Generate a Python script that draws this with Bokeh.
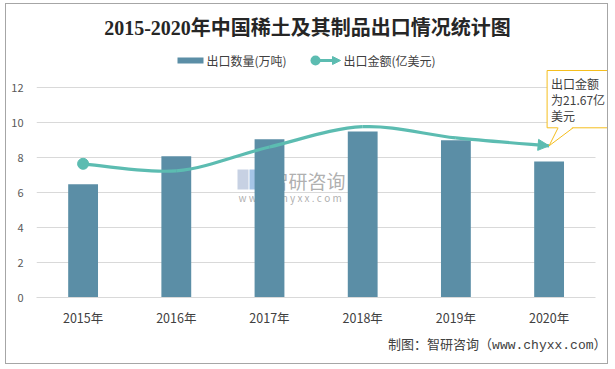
import numpy as np
from bokeh.plotting import figure
from bokeh.models import (Range1d, FixedTicker, Label, Arrow, NormalHead,
                          PolyAnnotation, BoxAnnotation, Title)
from bokeh.embed import file_html
from bokeh.resources import INLINE

# ---------------- data ----------------
years = ["2015年", "2016年", "2017年", "2018年", "2019年", "2020年"]
volume = [6.47, 8.07, 9.04, 9.49, 8.98, 7.77]          # 出口数量(万吨)
value_usd = [19.1, 18.1, 21.5, 24.4, 22.8, 21.67]      # 出口金额(亿美元)
y_ticks = [0, 2, 4, 6, 8, 10, 12]
value_axis_max = 30

# ---------------- layout (style only) ----------------
W, H = 603, 361
ML, MR, MT, MB = 30, 0, 0, 68
FW, FH = W - ML - MR, H - MT - MB
CAT_PX = 93.2          # pixels per category
UNIT_PX = 17.5         # pixels per y unit

BAR = "#5b8ea6"
LINE = "#5cbcb1"
CJK = "'Noto Sans CJK SC', sans-serif"

n = len(years)
xs = np.arange(n, dtype=float)
x_start = -0.5
x_end = x_start + FW / CAT_PX
y_end = FH / UNIT_PX

p = figure(width=W, height=H, x_range=Range1d(x_start, x_end),
           y_range=Range1d(y_ticks[0], y_end),
           output_backend="svg", toolbar_location=None,
           min_border_left=ML, min_border_right=MR,
           min_border_top=MT, min_border_bottom=MB)
p.extra_y_ranges = {"value": Range1d(0, value_axis_max * y_end / y_ticks[-1])}
p.outline_line_color = None
p.background_fill_color = "white"
p.border_fill_color = "white"
p.styles = {"border": "1px solid #a6a6a6", "margin-left": "5px", "margin-top": "3px"}

# axes
p.xaxis.ticker = FixedTicker(ticks=list(range(n)))
p.xaxis.major_label_overrides = {i: y for i, y in enumerate(years)}
p.xaxis.bounds = (-0.5, n - 0.5)
p.xaxis.axis_line_color = "#d9d9d9"
p.xaxis.major_tick_line_color = None
p.xaxis.minor_tick_line_color = None
p.xaxis.major_label_text_font = CJK
p.xaxis.major_label_text_font_size = "12.5px"
p.xaxis.major_label_text_color = "#404040"
p.xaxis.major_label_standoff = 4

p.yaxis.ticker = FixedTicker(ticks=y_ticks)
p.yaxis.axis_line_color = None
p.yaxis.major_tick_line_color = None
p.yaxis.minor_tick_line_color = None
p.yaxis.major_label_text_font = CJK
p.yaxis.major_label_text_font_size = "11px"
p.yaxis.major_label_text_color = "#595959"
p.yaxis.major_label_standoff = 7

p.xgrid.grid_line_color = None
p.ygrid.ticker = FixedTicker(ticks=y_ticks[1:])
p.ygrid.grid_line_color = "#d9d9d9"
p.ygrid.cross_bounds = (-0.5, n - 0.5)

# watermark (underlay)
p.add_layout(BoxAnnotation(left=201, right=212, bottom=108, top=128,
                           left_units="screen", right_units="screen",
                           bottom_units="screen", top_units="screen",
                           fill_color="#b9c6dc", fill_alpha=0.8, line_color=None,
                           level="underlay"))
p.add_layout(BoxAnnotation(left=213, right=224, bottom=108, top=128,
                           left_units="screen", right_units="screen",
                           bottom_units="screen", top_units="screen",
                           fill_color="#8fb7e0", fill_alpha=0.8, line_color=None,
                           level="underlay"))
p.add_layout(Label(x=233, y=117, x_units="screen", y_units="screen",
                   text="智研咨询", text_font=CJK, text_font_size="19px",
                   text_color="#9a9a9a", text_alpha=0.8, text_baseline="middle",
                   level="underlay"))
p.add_layout(Label(x=202, y=100, x_units="screen", y_units="screen",
                   text="w w w . c h y x x . c o m", text_font=CJK,
                   text_font_size="10px", text_color="#9a9a9a", text_alpha=0.8,
                   text_baseline="middle", level="underlay"))

# bars
p.vbar(x=xs, top=volume, width=0.32, fill_color=BAR, line_color=None)

# smoothed line (Catmull-Rom -> cubic Bezier)
P = np.column_stack([xs, np.array(value_usd, dtype=float)])
Pe = np.vstack([P[0], P, P[-1]])
i = np.arange(n - 1)
cp0 = Pe[i + 1] + (Pe[i + 2] - Pe[i]) / 6.0
cp1 = Pe[i + 2] - (Pe[i + 3] - Pe[i + 1]) / 6.0
p.bezier(x0=P[:-1, 0], y0=P[:-1, 1], x1=P[1:, 0], y1=P[1:, 1],
         cx0=cp0[:, 0], cy0=cp0[:, 1], cx1=cp1[:, 0], cy1=cp1[:, 1],
         line_color=LINE, line_width=3.2, y_range_name="value")
p.scatter(x=[xs[0]], y=[value_usd[0]], size=11, fill_color=LINE,
          line_color=LINE, y_range_name="value")
p.add_layout(Arrow(end=NormalHead(size=11, fill_color=LINE, line_color=LINE),
                   x_start=cp1[-1, 0], y_start=cp1[-1, 1],
                   x_end=xs[-1], y_end=value_usd[-1],
                   line_alpha=0, y_range_name="value"))

# callout
YEL = "#f5be1e"
p.add_layout(Label(x=xs[-1], y=value_usd[-1], y_range_name="value",
                   x_offset=-2, y_offset=18,
                   text=f"出口金额\n为{value_usd[-1]}亿\n美元",
                   anchor="bottom_left", text_font=CJK, text_font_size="12px",
                   text_color="#404040", text_line_height=0.95,
                   border_line_color=YEL, border_line_width=1,
                   background_fill_color="white", padding=4))
tip_x = (xs[-1] - x_start) * CAT_PX
tip_y = value_usd[-1] / value_axis_max * y_ticks[-1] * UNIT_PX
p.add_layout(PolyAnnotation(xs=[tip_x, tip_x + 9, tip_x + 24],
                            ys=[tip_y, tip_y + 19, tip_y + 19],
                            xs_units="screen", ys_units="screen",
                            fill_color="white", fill_alpha=1, line_color=None))
for dx in (9, 24):
    p.add_layout(Arrow(end=None, x_start=tip_x, y_start=tip_y,
                       x_end=tip_x + dx, y_end=tip_y + 18,
                       start_units="screen", end_units="screen",
                       line_color=YEL, line_width=1))

# title
p.add_layout(Label(x=271, y=270, x_units="screen", y_units="screen",
                   text="2015-2020年中国稀土及其制品出口情况统计图",
                   text_font="'Liberation Serif', 'Noto Sans CJK SC', serif",
                   text_font_style="bold", text_font_size="20px",
                   text_color="#262626", text_align="center",
                   text_baseline="middle"))

# legend
p.add_layout(BoxAnnotation(left=141, right=167, bottom=234, top=240,
                           left_units="screen", right_units="screen",
                           bottom_units="screen", top_units="screen",
                           fill_color=BAR, fill_alpha=1, line_color=None))
p.add_layout(Label(x=170, y=237, x_units="screen", y_units="screen",
                   text="出口数量(万吨)", text_font=CJK, text_font_size="12px",
                   text_color="#404040", text_baseline="middle"))
p.add_layout(Arrow(end=NormalHead(size=8, fill_color=LINE, line_color=LINE),
                   x_start=278, y_start=237, x_end=304, y_end=237,
                   start_units="screen", end_units="screen",
                   line_color=LINE, line_width=3))
p.add_layout(BoxAnnotation(left=274, right=284, bottom=232, top=242,
                           left_units="screen", right_units="screen",
                           bottom_units="screen", top_units="screen",
                           fill_color=LINE, fill_alpha=1, line_color=None,
                           border_radius=5))
p.add_layout(Label(x=307, y=237, x_units="screen", y_units="screen",
                   text="出口金额(亿美元)", text_font=CJK, text_font_size="12px",
                   text_color="#404040", text_baseline="middle"))

# source
p.add_layout(Title(text="制图：智研咨询（www.chyxx.com）", align="right",
                   text_font="'Liberation Mono', 'Noto Sans CJK SC', monospace",
                   text_font_size="13px", text_font_style="normal",
                   text_color="#404040", offset=3, standoff=12), "below")

open("out.html", "w").write(file_html(p, INLINE))
